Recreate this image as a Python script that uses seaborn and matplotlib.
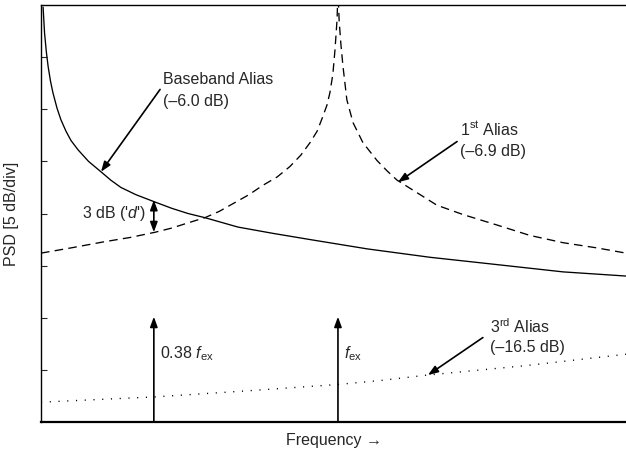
import matplotlib
matplotlib.use("Agg")
import matplotlib.pyplot as plt
import seaborn as sns
import pandas as pd
import numpy as np

# ---- data (frequency normalised to f_ex, PSD in dB, 5 dB/div) ----
baseband_x = [0.007, 0.012, 0.018, 0.024, 0.032, 0.040, 0.054, 0.067, 0.084, 0.101,
              0.125, 0.160, 0.202, 0.235, 0.269, 0.320, 0.384, 0.440, 0.495, 0.552,
              0.663, 0.780, 0.906, 1.100, 1.310, 1.535, 1.758, 1.970]
baseband_y = [-0.2, -2.7, -4.5, -5.9, -7.3, -8.4, -9.9, -11.0, -12.1, -13.0,
              -13.9, -15.0, -16.0, -16.8, -17.5, -18.2, -18.9, -19.5, -20.0, -20.4,
              -21.3, -21.9, -22.5, -23.4, -24.2, -24.9, -25.6, -26.0]

alias1_x = [0.000, 0.101, 0.215, 0.300, 0.384, 0.440, 0.495, 0.552, 0.600, 0.650,
            0.700, 0.747, 0.795, 0.838, 0.875, 0.906, 0.930, 0.949, 0.963, 0.973,
            0.983, 0.990, 0.997, 1.000, 1.004, 1.010, 1.017, 1.030, 1.051, 1.084,
            1.131, 1.165, 1.199, 1.266, 1.333, 1.421, 1.535, 1.646, 1.758, 1.872, 1.970]
alias1_y = [-23.8, -23.3, -22.7, -22.3, -21.8, -21.4, -20.9, -20.4, -19.8, -19.0,
            -18.2, -17.3, -16.5, -15.5, -14.4, -13.2, -12.1, -10.7, -9.6, -8.4,
            -6.6, -4.3, -1.4, 1.5, -1.5, -3.8, -5.9, -9.1, -11.3, -13.2,
            -14.9, -15.9, -16.8, -18.0, -19.2, -20.1, -21.1, -22.1, -22.8, -23.3, -23.8]

alias3_x = [0.00, 0.30, 0.38, 0.70, 1.00, 1.15, 1.30, 1.63, 1.97]
alias3_y = [-38.1, -37.7, -37.6, -37.0, -36.4, -36.0, -35.5, -34.6, -33.5]

tone_x = [0.38, 1.00]
tone_labels = ["0.38 $f_{\\rm ex}$", "$f_{\\rm ex}$"]
tone_top = -29.9

ytick_vals = [-35, -30, -25, -20, -15, -10, -5]

sns.set_style("white")
plt.rcParams["font.family"] = ["Liberation Sans", "DejaVu Sans"]
plt.rcParams["mathtext.fontset"] = "custom"
plt.rcParams["mathtext.rm"] = "Liberation Sans"
plt.rcParams["mathtext.it"] = "Liberation Sans:italic"
plt.rcParams["mathtext.bf"] = "Liberation Sans:bold"

FS = 11.5
fig = plt.figure(figsize=(6.26, 4.55), dpi=100)
ax = fig.add_axes([41 / 626, 1 - 422 / 455, 1 - 41 / 626, (422 - 5) / 455])

df_b = pd.DataFrame({"f": baseband_x, "p": baseband_y})
df_1 = pd.DataFrame({"f": alias1_x, "p": alias1_y})
df_3 = pd.DataFrame({"f": alias3_x, "p": alias3_y})

sns.lineplot(data=df_b, x="f", y="p", ax=ax, color="black", lw=0.95, estimator=None, sort=False)
sns.lineplot(data=df_1, x="f", y="p", ax=ax, color="black", lw=0.95, estimator=None, sort=False,
             linestyle=(0, (6.5, 4)))
sns.lineplot(data=df_3, x="f", y="p", ax=ax, color="black", lw=1.0, estimator=None, sort=False,
             linestyle=(0, (0.8, 5.5)))

ax.set_xlim(0, 1.97)
ax.set_ylim(-40, 0)
ax.set_xticks([])
ax.set_yticks(ytick_vals)
ax.set_yticklabels([])
ax.tick_params(axis="y", direction="in", length=4, width=0.8, left=True)
for s in ["left", "top", "bottom"]:
    ax.spines[s].set_color("black")
ax.spines["left"].set_linewidth(1.0)
ax.spines["top"].set_linewidth(1.0)
ax.spines["bottom"].set_linewidth(1.6)
ax.spines["right"].set_visible(False)

ax.set_xlabel("Frequency \u2192", fontsize=FS, labelpad=8)
ax.set_ylabel("PSD [5 dB/div]", fontsize=FS, labelpad=12)

arr = dict(arrowstyle="-|>,head_length=0.6,head_width=0.22", color="black", lw=1.2,
           shrinkA=0, shrinkB=0, mutation_scale=10)

# tone arrows
for fx, lab in zip(tone_x, tone_labels):
    ax.annotate("", xy=(fx, tone_top), xytext=(fx, -40), arrowprops=arr)
    ax.text(fx + 0.02, -33.4, lab, fontsize=FS, va="center", ha="left")

# baseband alias
ax.text(0.411, -7.1, "Baseband Alias", fontsize=FS, va="center", ha="left")
ax.text(0.411, -9.3, "(\u20136.0 dB)", fontsize=FS, va="center", ha="left")
ax.annotate("", xy=(0.202, -16.0), xytext=(0.401, -8.1), arrowprops=arr)

# 3 dB marker
ax.annotate("", xy=(0.38, -18.7), xytext=(0.38, -21.8),
            arrowprops=dict(arrowstyle="<|-|>,head_length=0.6,head_width=0.22", color="black",
                            lw=1.2, shrinkA=0, shrinkB=0, mutation_scale=10))
ax.text(0.354, -20.0, "3 dB ('$\\mathit{d}$')", fontsize=FS, va="center", ha="right")

# 1st alias
ax.text(1.411, -11.9, "1$^{\\rm st}$ Alias", fontsize=FS, va="center", ha="left")
ax.text(1.411, -14.1, "(\u20136.9 dB)", fontsize=FS, va="center", ha="left")
ax.annotate("", xy=(1.202, -17.0), xytext=(1.401, -13.1), arrowprops=arr)

# 3rd alias
ax.text(1.512, -30.9, "3$^{\\rm rd}$ Alias", fontsize=FS, va="center", ha="left")
ax.text(1.512, -32.9, "(\u201316.5 dB)", fontsize=FS, va="center", ha="left")
ax.annotate("", xy=(1.303, -35.5), xytext=(1.488, -31.9), arrowprops=arr)

fig.savefig("out.png", dpi=100)
